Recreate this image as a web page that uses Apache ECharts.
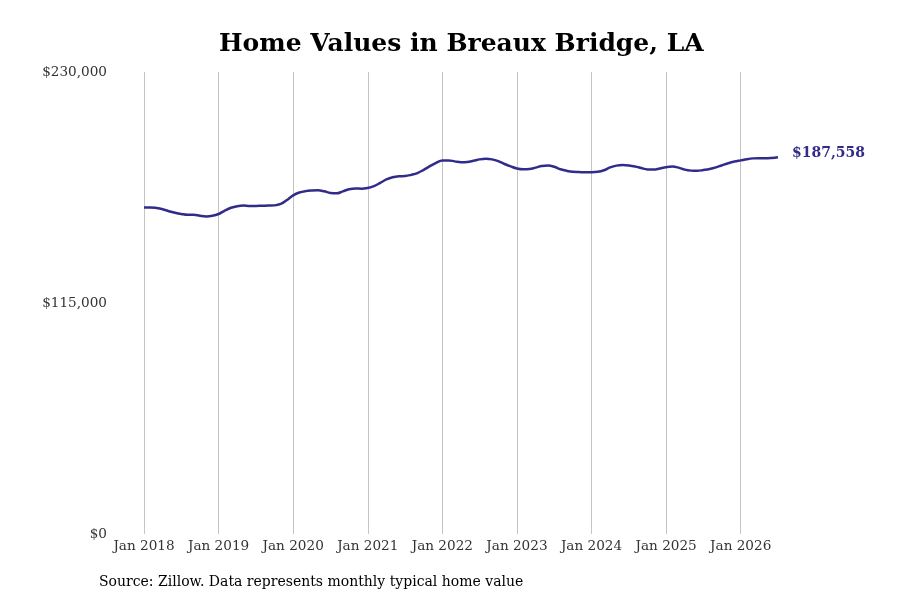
<!DOCTYPE html>
<html>
<head>
<meta charset="utf-8">
<script src="https://cdn.jsdelivr.net/npm/echarts@6/dist/echarts.min.js"></script>
<style>
  html, body { margin: 0; padding: 0; background: #fff; }
  #chart { width: 900px; height: 600px; }
</style>
</head>
<body>
<div id="chart"></div>
<script>
var years = [2018, 2019, 2020, 2021, 2022, 2023, 2024, 2025, 2026];
var monthNames = ['Jan', 'Feb', 'Mar', 'Apr', 'May', 'Jun', 'Jul', 'Aug', 'Sep', 'Oct', 'Nov', 'Dec'];

var values2018 = [162500, 162600, 162300, 161700, 160700, 159900, 159300, 158900, 158900, 158400, 158100, 158400];
var values2019 = [159300, 161000, 162400, 163200, 163500, 163300, 163300, 163400, 163500, 163600, 164300, 166300];
var values2020 = [168600, 170000, 170700, 171000, 171100, 170600, 169800, 169600, 170600, 171600, 172000, 171900];
var values2021 = [172300, 173200, 174800, 176500, 177600, 178100, 178200, 178800, 179700, 181300, 183100, 184800];
var values2022 = [186000, 186000, 185500, 185100, 185200, 185800, 186500, 186800, 186500, 185600, 184200, 183000];
var values2023 = [182000, 181600, 181700, 182400, 183200, 183400, 182800, 181600, 180800, 180300, 180200, 180100];
var values2024 = [180100, 180300, 181100, 182500, 183400, 183700, 183500, 183000, 182200, 181500, 181400, 182000];
var values2025 = [182600, 182900, 182400, 181400, 180900, 180800, 181200, 181700, 182500, 183600, 184600, 185400];
var values2026 = [186000, 186600, 187000, 187100, 187000, 187200, 187558];

var yTicks = [0, 115000, 230000];

var values = [].concat(values2018, values2019, values2020, values2021, values2022,
    values2023, values2024, values2025, values2026);

var months = [];
for (var i = 0; i < values.length; i++) {
    months.push(monthNames[i % 12] + ' ' + years[Math.floor(i / 12)]);
}

var font = 'DejaVu Serif';
var lineColor = '#312c8a';

var myChart = echarts.init(document.getElementById('chart'));

var option = {
    backgroundColor: '#fff',
    animation: false,
    title: {
        text: 'Home Values in Breaux Bridge, LA',
        left: 214,
        top: 27,
        textStyle: {
            fontFamily: font,
            fontSize: 25,
            fontWeight: 'bold',
            color: '#000'
        }
    },
    graphic: [{
        type: 'text',
        left: 99,
        top: 575,
        style: {
            text: 'Source: Zillow. Data represents monthly typical home value',
            fontFamily: font,
            fontSize: 14,
            fill: '#000'
        }
    }],
    grid: {
        left: 144,
        right: 122,
        top: 72,
        bottom: 66
    },
    xAxis: {
        type: 'category',
        boundaryGap: false,
        data: months,
        axisLine: { show: false },
        axisTick: { show: false },
        axisLabel: {
            interval: function (index) { return index % 12 === 0; },
            margin: 5,
            fontFamily: font,
            fontSize: 13.6,
            color: '#333'
        },
        splitLine: {
            show: true,
            interval: function (index) { return index % 12 === 0; },
            lineStyle: { color: '#c4c4c4', width: 1 }
        }
    },
    yAxis: {
        type: 'value',
        min: yTicks[0],
        max: yTicks[2],
        interval: yTicks[1],
        axisLine: { show: false },
        axisTick: { show: false },
        splitLine: { show: false },
        axisLabel: {
            margin: 37,
            padding: [5, 0, 0, 0],
            fontFamily: font,
            fontSize: 13.6,
            color: '#333',
            formatter: function (v) { return '$' + v.toLocaleString('en-US'); }
        }
    },
    series: [{
        type: 'line',
        data: values,
        smooth: 0.4,
        showSymbol: false,
        lineStyle: { color: lineColor, width: 2.5 },
        endLabel: {
            show: true,
            distance: 14,
            fontFamily: font,
            fontSize: 14,
            fontWeight: 'bold',
            color: lineColor,
            offset: [0, -4],
            formatter: function (p) { return '$' + p.value.toLocaleString('en-US'); }
        }
    }]
};

myChart.setOption(option);
</script>
</body>
</html>
